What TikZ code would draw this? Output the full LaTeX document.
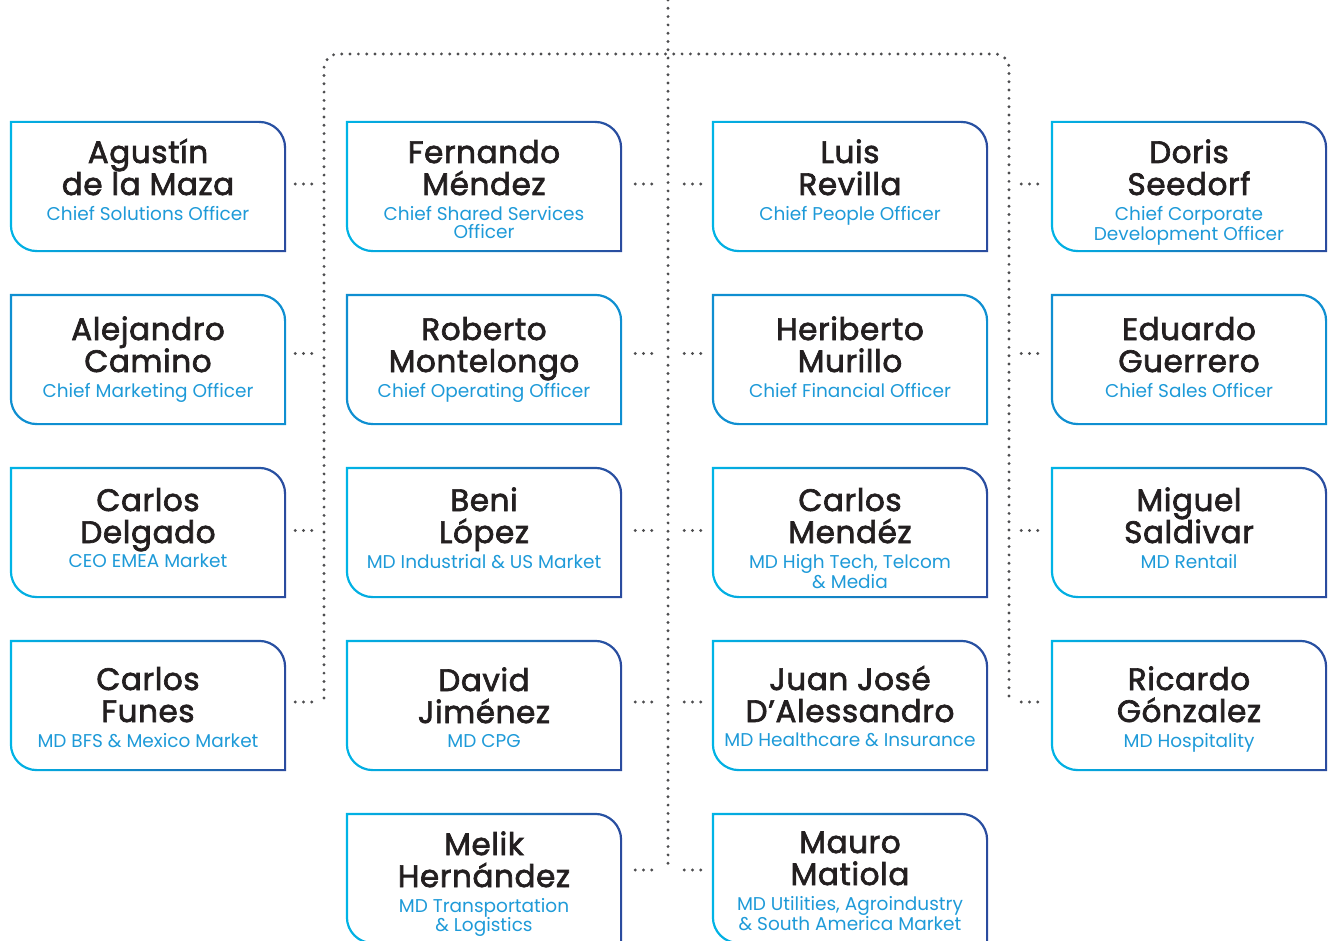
\documentclass[tikz,border=0pt]{standalone}
\usepackage{fontspec}
\setmainfont{Poppins}
\newfontfamily\namefont[FakeBold=2.2, LetterSpace=2]{Poppins}
\usepackage{tikz}
\usetikzlibrary{positioning}
\definecolor{boxcyan}{HTML}{00B4E6}
\definecolor{boxblue}{HTML}{2A4B9E}
\definecolor{boxmid}{HTML}{0F8FD1}
\definecolor{titleblue}{HTML}{1E9AD8}
\definecolor{nameblack}{HTML}{231F20}
\definecolor{dotgrey}{HTML}{4D4D4F}
\tikzset{
  orgbox/.style={minimum width=276pt, minimum height=131pt, inner sep=0pt},
  edgeshade/.style={left color=boxcyan, right color=boxblue},
  edgeflat/.style={left color=boxmid, right color=boxmid},
  nametext/.style={align=center, inner sep=0pt, text=nameblack, font=\namefont\fontsize{31}{32}\selectfont},
  titletext/.style={align=center, inner sep=0pt, text=titleblue, font=\fontsize{18.5}{18.5}\selectfont},
  dotline/.style={draw=dotgrey, line width=3.2pt, line cap=round, dash pattern=on 0pt off 8.3pt},
}
\newcommand{\boxborder}[2]{%
  \shade[#2, even odd rule]
    (#1.north west) -- ([xshift=-27pt]#1.north east) arc[start angle=90, end angle=0, radius=27pt]
    -- (#1.south east) -- ([xshift=27pt]#1.south west) arc[start angle=270, end angle=180, radius=27pt] -- cycle
    ([shift={(2.2pt,-2.2pt)}]#1.north west) -- ([shift={(-27pt,-2.2pt)}]#1.north east) arc[start angle=90, end angle=0, radius=24.8pt]
    -- ([shift={(-2.2pt,2.2pt)}]#1.south east) -- ([shift={(27pt,2.2pt)}]#1.south west) arc[start angle=270, end angle=180, radius=24.8pt] -- cycle;}
\newcommand{\orgmember}[7]{%
  \node[orgbox] (#1) at (#2,-#3) {};
  \boxborder{#1}{#6}
  \node[nametext, below=#7+14pt of #1.north] (#1n) {\rule{0pt}{28pt}#4};
  \node[titletext, below=#7+85pt of #1.north] (#1t) {\rule{0pt}{13pt}#5};}

\begin{document}
\begin{tikzpicture}[x=1pt, y=1pt]
  \useasboundingbox (0,0) rectangle (1329,-941);

  \orgmember{sol}{148}{186.5}{Agustín\\de la Maza}{Chief Solutions Officer}{edgeshade}{0pt}
  \orgmember{mkt}{148}{359.5}{Alejandro\\Camino}{Chief Marketing Officer}{edgeflat}{4pt}
  \orgmember{emea}{148}{532.5}{Carlos\\Delgado}{CEO EMEA Market}{edgeshade}{2pt}
  \orgmember{bfs}{148}{705.5}{Carlos\\Funes}{MD BFS \& Mexico Market}{edgeshade}{8pt}

  \orgmember{shared}{484}{186.5}{Fernando\\Méndez}{Chief Shared Services\\Officer}{edgeshade}{0pt}
  \orgmember{coo}{484}{359.5}{Roberto\\Montelongo}{Chief Operating Officer}{edgeflat}{4pt}
  \orgmember{ind}{484}{532.5}{Beni\\López}{MD Industrial \& US Market}{edgeshade}{2pt}
  \orgmember{cpg}{484}{705.5}{David\\Jiménez}{MD CPG}{edgeshade}{9pt}
  \orgmember{trans}{484}{878.5}{Melik\\Hernández}{MD Transportation\\\& Logistics}{edgeshade}{0pt}

  \orgmember{people}{850}{186.5}{Luis\\Revilla}{Chief People Officer}{edgeshade}{0pt}
  \orgmember{cfo}{850}{359.5}{Heriberto\\Murillo}{Chief Financial Officer}{edgeflat}{4pt}
  \orgmember{tech}{850}{532.5}{Carlos\\Mendéz}{MD High Tech, Telcom\\\& Media}{edgeshade}{2pt}
  \orgmember{health}{850}{705.5}{Juan José\\D’Alessandro}{MD Healthcare \& Insurance}{edgeshade}{8pt}
  \orgmember{util}{850}{878.5}{Mauro\\Matiola}{MD Utilities, Agroindustry\\\& South America Market}{edgeshade}{-2pt}

  \orgmember{corp}{1189}{186.5}{Doris\\Seedorf}{Chief Corporate\\Development Officer}{edgeshade}{0pt}
  \orgmember{sales}{1189}{359.5}{Eduardo\\Guerrero}{Chief Sales Officer}{edgeflat}{4pt}
  \orgmember{rent}{1189}{532.5}{Miguel\\Saldivar}{MD Rentail}{edgeshade}{2pt}
  \orgmember{hosp}{1189}{705.5}{Ricardo\\Gónzalez}{MD Hospitality}{edgeshade}{8pt}

  \coordinate (root) at (668,0);
  \coordinate (endC) at (668,-866);
  \coordinate (busL) at (324,-54);
  \coordinate (busR) at (1009,-54);
  \coordinate (endL) at (324,-698);
  \coordinate (endR) at (1009,-698);

  \draw[dotline] (root) -- (endC);
  \draw[dotline, rounded corners=14pt] (endL) -- (busL) -- (busR) -- (endR);

  \draw[dotline] ([shift={(9pt,2.5pt)}]sol.east) -- ([shift={(-11pt,2.5pt)}]sol.east -| busL);
  \draw[dotline] ([shift={(9pt,6pt)}]mkt.east) -- ([shift={(-11pt,6pt)}]mkt.east -| busL);
  \draw[dotline] ([shift={(9pt,2pt)}]emea.east) -- ([shift={(-11pt,2pt)}]emea.east -| busL);
  \draw[dotline] ([shift={(9pt,3.5pt)}]bfs.east) -- ([shift={(-11pt,3.5pt)}]bfs.east -| busL);

  \draw[dotline] ([shift={(13pt,2.5pt)}]shared.east) -- ([shift={(-13pt,2.5pt)}]shared.east -| root);
  \draw[dotline] ([shift={(13pt,6pt)}]coo.east) -- ([shift={(-13pt,6pt)}]coo.east -| root);
  \draw[dotline] ([shift={(13pt,2pt)}]ind.east) -- ([shift={(-13pt,2pt)}]ind.east -| root);
  \draw[dotline] ([shift={(13pt,3.5pt)}]cpg.east) -- ([shift={(-13pt,3.5pt)}]cpg.east -| root);
  \draw[dotline] ([shift={(13pt,8.5pt)}]trans.east) -- ([shift={(-13pt,8.5pt)}]trans.east -| root);

  \draw[dotline] ([shift={(-11pt,2.5pt)}]people.west) -- ([shift={(14pt,2.5pt)}]people.west -| root);
  \draw[dotline] ([shift={(-11pt,6pt)}]cfo.west) -- ([shift={(14pt,6pt)}]cfo.west -| root);
  \draw[dotline] ([shift={(-11pt,2pt)}]tech.west) -- ([shift={(14pt,2pt)}]tech.west -| root);
  \draw[dotline] ([shift={(-11pt,3.5pt)}]health.west) -- ([shift={(14pt,3.5pt)}]health.west -| root);
  \draw[dotline] ([shift={(-11pt,8.5pt)}]util.west) -- ([shift={(14pt,8.5pt)}]util.west -| root);

  \draw[dotline] ([shift={(-13pt,2.5pt)}]corp.west) -- ([shift={(11pt,2.5pt)}]corp.west -| busR);
  \draw[dotline] ([shift={(-13pt,6pt)}]sales.west) -- ([shift={(11pt,6pt)}]sales.west -| busR);
  \draw[dotline] ([shift={(-13pt,2pt)}]rent.west) -- ([shift={(11pt,2pt)}]rent.west -| busR);
  \draw[dotline] ([shift={(-13pt,3.5pt)}]hosp.west) -- ([shift={(11pt,3.5pt)}]hosp.west -| busR);
\end{tikzpicture}
\end{document}
